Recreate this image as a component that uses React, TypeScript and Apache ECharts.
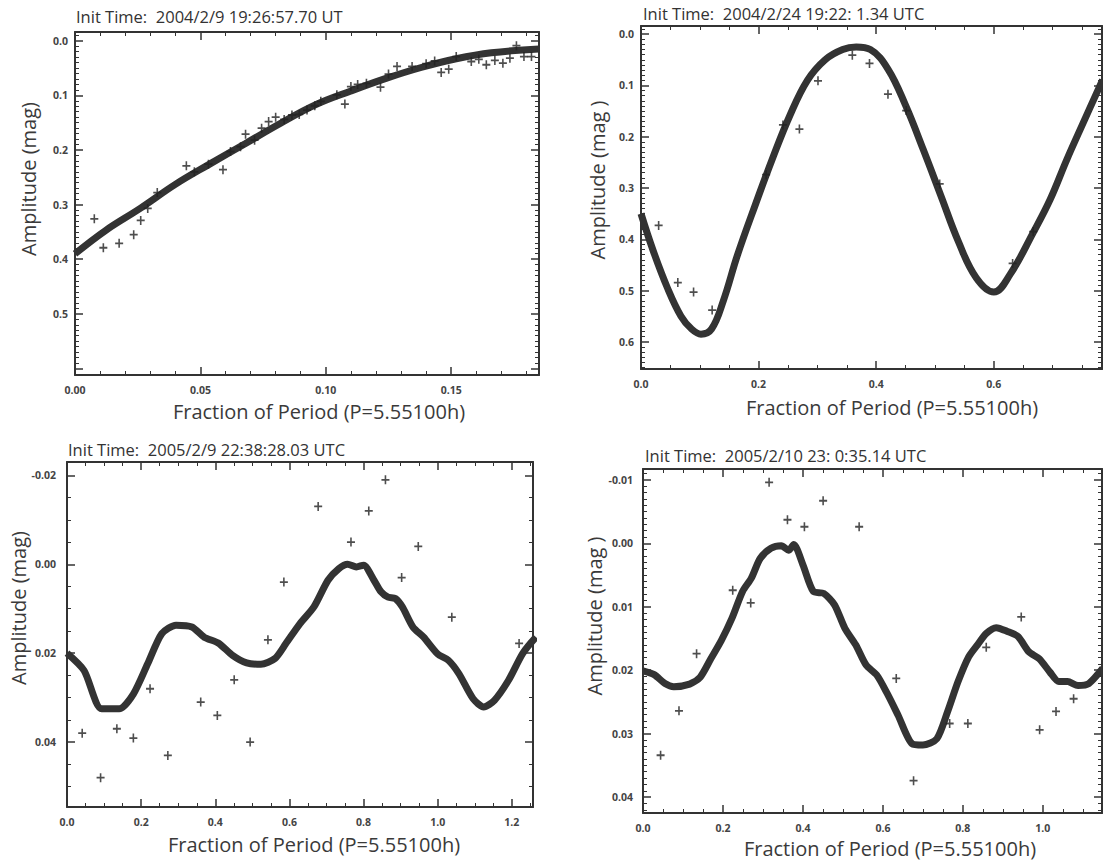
import React, { useEffect, useRef } from 'react';
import * as echarts from 'echarts';

// ---------- data ----------
const TITLES = [
  'Init Time:  2004/2/9 19:26:57.70 UT',
  'Init Time:  2004/2/24 19:22: 1.34 UTC',
  'Init Time:  2005/2/9 22:38:28.03 UTC',
  'Init Time:  2005/2/10 23: 0:35.14 UTC',
];
const X_TITLE = 'Fraction of Period (P=5.55100h)';
const Y_TITLES = ['Amplitude (mag)', 'Amplitude (mag )', 'Amplitude (mag)', 'Amplitude (mag )'];

const P1_CURVE = [
  [0, 0.39], [0.0123, 0.347], [0.026, 0.307], [0.04, 0.263], [0.054, 0.225], [0.068, 0.188],
  [0.082, 0.151], [0.096, 0.117], [0.11, 0.092], [0.124, 0.069], [0.138, 0.049], [0.152, 0.033],
  [0.166, 0.022], [0.185, 0.015],
];
const P1_POINTS = [
  [0.0077, 0.326], [0.0113, 0.379], [0.0176, 0.371], [0.0234, 0.355], [0.0262, 0.329], [0.029, 0.307],
  [0.0328, 0.278], [0.0444, 0.229], [0.0476, 0.24], [0.0532, 0.226], [0.059, 0.236], [0.062, 0.203],
  [0.066, 0.194], [0.068, 0.171], [0.0716, 0.182], [0.0744, 0.16], [0.0772, 0.148], [0.08, 0.14],
  [0.0834, 0.144], [0.0865, 0.136], [0.0894, 0.135], [0.0925, 0.127], [0.0956, 0.119], [0.098, 0.111],
  [0.1044, 0.099], [0.1076, 0.116], [0.11, 0.084], [0.1127, 0.08], [0.1162, 0.078], [0.1218, 0.085],
  [0.125, 0.061], [0.1284, 0.047], [0.1344, 0.047], [0.14, 0.042], [0.1434, 0.037], [0.146, 0.058],
  [0.149, 0.052], [0.152, 0.029], [0.158, 0.038], [0.161, 0.034], [0.164, 0.044], [0.1674, 0.036],
  [0.1706, 0.041], [0.1734, 0.032], [0.176, 0.009], [0.179, 0.029], [0.182, 0.029],
];

const P2_CURVE = [
  [0, 0.35], [0.02, 0.42], [0.045, 0.495], [0.068, 0.55], [0.086, 0.575], [0.102, 0.585], [0.12, 0.575],
  [0.14, 0.52], [0.164, 0.431], [0.194, 0.334], [0.2235, 0.243], [0.253, 0.159], [0.283, 0.09],
  [0.313, 0.05], [0.343, 0.03], [0.366, 0.025], [0.39, 0.03], [0.42, 0.068], [0.45, 0.139],
  [0.48, 0.225], [0.51, 0.315], [0.54, 0.405], [0.57, 0.475], [0.6, 0.503], [0.628, 0.468],
  [0.667, 0.387], [0.696, 0.322], [0.724, 0.245], [0.752, 0.173], [0.785, 0.089],
];
const P2_POINTS = [
  [0.03, 0.373], [0.0626, 0.4845], [0.0894, 0.503], [0.121, 0.538], [0.2128, 0.274], [0.2414, 0.177],
  [0.2694, 0.185], [0.301, 0.091], [0.3594, 0.041], [0.3886, 0.057], [0.42, 0.117], [0.451, 0.149],
  [0.508, 0.292], [0.632, 0.447], [0.667, 0.385],
];

const P3_CURVE = [
  [0, 0.02], [0.046, 0.0239], [0.0935, 0.0325], [0.141, 0.0325], [0.179, 0.0292], [0.2176, 0.0224],
  [0.2557, 0.0156], [0.294, 0.0137], [0.337, 0.0141], [0.37, 0.0164], [0.408, 0.0177], [0.4466, 0.0205],
  [0.4847, 0.0222], [0.523, 0.0225], [0.561, 0.0212], [0.59, 0.0179], [0.628, 0.0134], [0.666, 0.0096],
  [0.704, 0.0036], [0.733, 0.001], [0.757, 0.0], [0.7805, 0.0006], [0.8, 0.0002], [0.828, 0.0036],
  [0.847, 0.0062], [0.866, 0.0074], [0.8855, 0.0077], [0.9046, 0.0096], [0.933, 0.0141], [0.962, 0.0164],
  [1.0, 0.0202], [1.0286, 0.0216], [1.057, 0.0246], [1.095, 0.0302], [1.124, 0.0321], [1.153, 0.0306],
  [1.191, 0.0261], [1.229, 0.0201], [1.265, 0.0164],
];
const P3_POINTS = [
  [0.041, 0.038], [0.0906, 0.048], [0.1345, 0.037], [0.179, 0.0391], [0.224, 0.028], [0.272, 0.043],
  [0.3607, 0.031], [0.4055, 0.034], [0.451, 0.026], [0.494, 0.04], [0.542, 0.017], [0.585, 0.004],
  [0.6775, -0.013], [0.766, -0.005], [0.814, -0.012], [0.859, -0.019], [0.9027, 0.003], [0.9475, -0.004],
  [1.038, 0.0119], [1.2195, 0.0178],
];

const P4_CURVE = [
  [0, 0.0201], [0.028, 0.0207], [0.055, 0.0221], [0.077, 0.0226], [0.1166, 0.0222], [0.143, 0.0211],
  [0.1696, 0.0182], [0.196, 0.0153], [0.2226, 0.0118], [0.249, 0.0076], [0.271, 0.0055], [0.293, 0.0024],
  [0.32, 0.0008], [0.346, 0.0004], [0.364, 0.0011], [0.377, 0.0002], [0.4, 0.0034], [0.426, 0.0076],
  [0.452, 0.0079], [0.479, 0.0097], [0.505, 0.0134], [0.532, 0.016], [0.558, 0.0192], [0.585, 0.0208],
  [0.611, 0.0237], [0.638, 0.0271], [0.673, 0.0316], [0.7, 0.0318], [0.735, 0.0308], [0.7615, 0.0266],
  [0.788, 0.0218], [0.8145, 0.0179], [0.8366, 0.016], [0.8587, 0.0142], [0.8834, 0.0133], [0.9117, 0.0139],
  [0.938, 0.0147], [0.965, 0.0171], [0.991, 0.0182], [1.0177, 0.0203], [1.04, 0.0218], [1.062, 0.0218],
  [1.088, 0.0224], [1.115, 0.0221], [1.15, 0.0197],
];
const P4_POINTS = [
  [0.044, 0.0334], [0.09, 0.0264], [0.134, 0.0174], [0.2244, 0.0074], [0.2694, 0.0094], [0.3154, -0.0096],
  [0.3613, -0.0037], [0.4037, -0.0026], [0.4505, -0.0067], [0.5406, -0.0026], [0.6334, 0.0213],
  [0.6767, 0.0374], [0.767, 0.0284], [0.8125, 0.0284], [0.8585, 0.0164], [0.946, 0.0116], [0.992, 0.0294],
  [1.033, 0.0265], [1.077, 0.0245],
];

const CURVES = [P1_CURVE, P2_CURVE, P3_CURVE, P4_CURVE];
const POINTS = [P1_POINTS, P2_POINTS, P3_POINTS, P4_POINTS];

// ---------- layout ----------
const LAYOUT = [
  { grid: { left: 75, top: 32, width: 464, height: 343 }, x: [0, 0.185], xs: 0.05, xm: 5, xd: 2, y: [-0.016, 0.612], ys: 0.1, ym: 10, yd: 1, ymargin: 7, yLabelMax: 0.5,
    title: [76, 16], xt: [319, 411], yt: [28, 179], smooth: 0.4 },
  { grid: { left: 641, top: 26, width: 461, height: 343 }, x: [0, 0.784], xs: 0.2, xm: 4, xd: 1, y: [-0.016, 0.653], ys: 0.1, ym: 10, yd: 1, ymargin: 7, yLabelMax: 1,
    title: [643, 13], xt: [892, 407], yt: [597, 180], smooth: 0.4 },
  { grid: { left: 67, top: 462, width: 466, height: 345 }, x: [0, 1.257], xs: 0.2, xm: 4, xd: 1, y: [-0.023, 0.0546], ys: 0.02, ym: 4, yd: 2, ymargin: 11, yLabelMax: 1,
    title: [68, 449], xt: [314, 844], yt: [18, 608], smooth: 0.25 },
  { grid: { left: 643, top: 469, width: 459, height: 344 }, x: [0, 1.148], xs: 0.2, xm: 4, xd: 1, y: [-0.0117, 0.0425], ys: 0.01, ym: 10, yd: 2, ymargin: 10, yLabelMax: 1,
    title: [645, 455], xt: [890, 848], yt: [594, 616], smooth: 0.25 },
];

const FONT = '"Open Sans", "Noto Sans", sans-serif';
const INK = '#333';
const PLUS = 'path://M4,0H6V4H10V6H6V10H4V6H0V4H4Z';

const fmt = (step: number, dec: number, maxLabel: number) => (v: number) => {
  const k = v / step;
  if (Math.abs(k - Math.round(k)) > 1e-6) return '';
  if (v > maxLabel + 1e-9) return '';
  const val = Math.abs(v) < 1e-9 ? 0 : v;
  return val.toFixed(dec);
};

function makeAxis(gridIndex: number, range: number[], step: number, minor: number, dec: number,
  position: string, labels: boolean, inverse: boolean, margin: number, maxLabel: number) {
  return {
    gridIndex,
    type: 'value',
    min: range[0],
    max: range[1],
    minInterval: step,
    maxInterval: step,
    position,
    inverse,
    axisLine: { show: true, onZero: false, lineStyle: { color: INK, width: 2 } },
    axisTick: { show: true, inside: true, length: 8, lineStyle: { color: INK, width: 1.5 } },
    minorTick: { show: true, splitNumber: minor, length: 4, lineStyle: { color: INK, width: 1 } },
    splitLine: { show: false },
    minorSplitLine: { show: false },
    axisLabel: {
      show: labels,
      margin,
      formatter: fmt(step, dec, maxLabel),
      color: '#444',
      fontSize: 10.5,
      fontWeight: 'bold',
      fontFamily: FONT,
    },
  };
}

export default function App() {
  const ref = useRef<HTMLDivElement>(null);
  useEffect(() => {
    if (!ref.current) return;
    const chart = echarts.init(ref.current, undefined, { renderer: 'svg' });
    const grids: any[] = [];
    const xAxes: any[] = [];
    const yAxes: any[] = [];
    const series: any[] = [];
    const graphic: any[] = [];
    LAYOUT.forEach((L, i) => {
      grids.push({ ...L.grid, containLabel: false, outerBoundsMode: 'none' });
      xAxes.push(makeAxis(i, L.x, L.xs, L.xm, L.xd, 'bottom', true, false, 9, 99));
      xAxes.push(makeAxis(i, L.x, L.xs, L.xm, L.xd, 'top', false, false, 9, 99));
      yAxes.push(makeAxis(i, L.y, L.ys, L.ym, L.yd, 'left', true, true, L.ymargin, L.yLabelMax));
      yAxes.push(makeAxis(i, L.y, L.ys, L.ym, L.yd, 'right', false, true, L.ymargin, L.yLabelMax));
      series.push({
        type: 'line',
        xAxisIndex: 2 * i,
        yAxisIndex: 2 * i,
        data: CURVES[i],
        symbol: 'none',
        showSymbol: false,
        smooth: L.smooth,
        lineStyle: { color: INK, width: 7 },
        silent: true,
        z: 2,
      });
      series.push({
        type: 'scatter',
        xAxisIndex: 2 * i,
        yAxisIndex: 2 * i,
        data: POINTS[i],
        symbol: PLUS,
        symbolSize: [8, 9],
        itemStyle: { color: '#222' },
        silent: true,
        z: 3,
      });
      graphic.push({
        type: 'text', x: L.title[0], y: L.title[1],
        style: { text: TITLES[i], fill: '#333', font: `16.5px ${FONT}`, align: 'left', verticalAlign: 'middle' },
      });
      graphic.push({
        type: 'text', x: L.xt[0], y: L.xt[1],
        style: { text: X_TITLE, fill: '#3a3a3a', font: `20px ${FONT}`, align: 'center', verticalAlign: 'middle' },
      });
      graphic.push({
        type: 'text', x: L.yt[0], y: L.yt[1], rotation: Math.PI / 2,
        style: { text: Y_TITLES[i], fill: '#3a3a3a', font: `20px ${FONT}`, align: 'center', verticalAlign: 'middle' },
      });
    });
    chart.setOption({
      animation: false,
      backgroundColor: '#fff',
      grid: grids,
      xAxis: xAxes,
      yAxis: yAxes,
      series,
      graphic,
    });
    return () => chart.dispose();
  }, []);
  return <div ref={ref} style={{ position: 'fixed', left: 0, top: 0, width: 1103, height: 864 }} />;
}
